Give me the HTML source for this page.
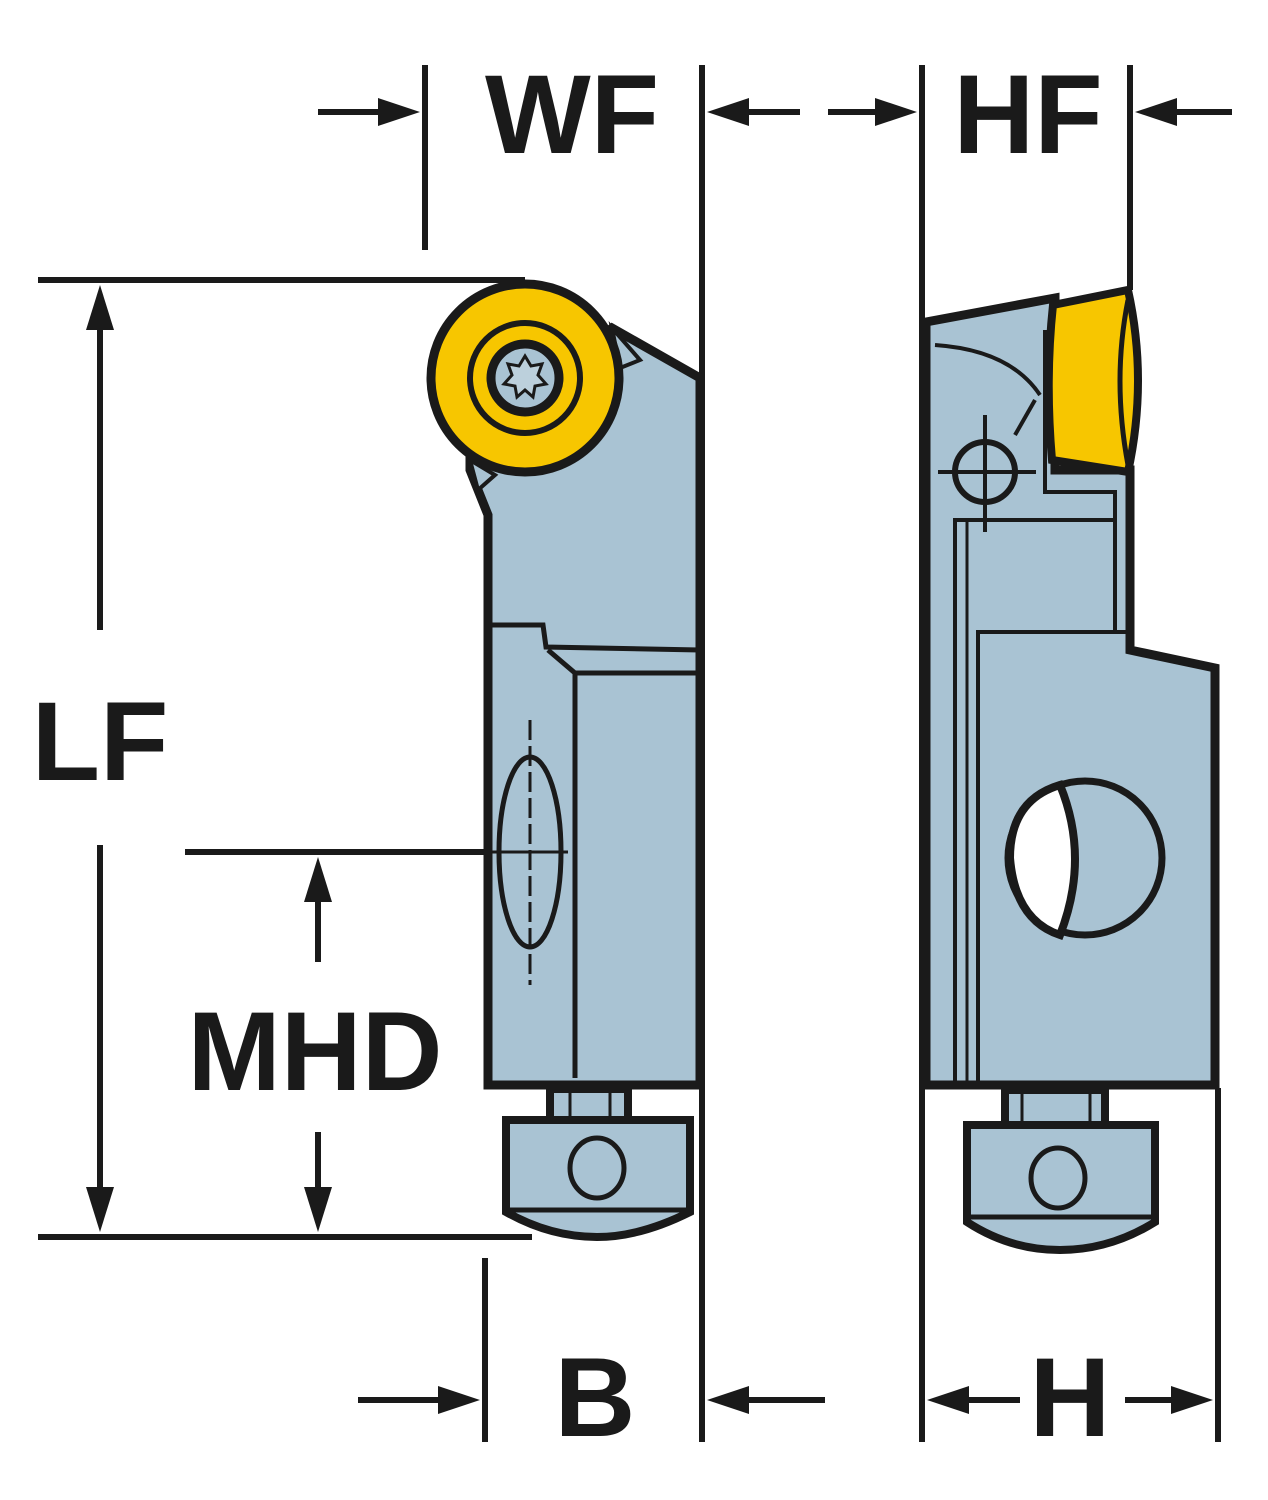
<!DOCTYPE html>
<html><head><meta charset="utf-8"><style>html,body{margin:0;padding:0;background:#fff}svg{display:block}</style></head>
<body>
<svg width="1268" height="1500" viewBox="0 0 1268 1500" xmlns="http://www.w3.org/2000/svg">
<g fill="none" stroke="#1a1a1a" stroke-width="6">
<line x1="425" y1="65" x2="425" y2="250"/>
<line x1="702" y1="65" x2="702" y2="1442"/>
<line x1="922" y1="65" x2="922" y2="1442"/>
<line x1="1130" y1="65" x2="1130" y2="290"/>
<line x1="485" y1="1258" x2="485" y2="1442"/>
<line x1="1218" y1="1088" x2="1218" y2="1442"/>
<line x1="38" y1="280" x2="525" y2="280"/>
<line x1="38" y1="1237" x2="532" y2="1237"/>
<line x1="185" y1="852" x2="565" y2="852"/>
<line x1="318" y1="112" x2="390" y2="112"/>
<line x1="735" y1="112" x2="800" y2="112"/>
<line x1="828" y1="112" x2="890" y2="112"/>
<line x1="1165" y1="112" x2="1232" y2="112"/>
<line x1="100" y1="320" x2="100" y2="630"/>
<line x1="100" y1="845" x2="100" y2="1195"/>
<line x1="318" y1="895" x2="318" y2="962"/>
<line x1="318" y1="1132" x2="318" y2="1195"/>
<line x1="358" y1="1400" x2="450" y2="1400"/>
<line x1="735" y1="1400" x2="825" y2="1400"/>
<line x1="955" y1="1400" x2="1020" y2="1400"/>
<line x1="1125" y1="1400" x2="1185" y2="1400"/>
</g>
<g fill="#1a1a1a">
<polygon points="420,112 378,98 378,126"/>
<polygon points="707,112 749,98 749,126"/>
<polygon points="917,112 875,98 875,126"/>
<polygon points="1135,112 1177,98 1177,126"/>
<polygon points="100,285 86,330 114,330"/>
<polygon points="100,1232 86,1187 114,1187"/>
<polygon points="318,857 304,902 332,902"/>
<polygon points="318,1232 304,1187 332,1187"/>
<polygon points="480,1400 438,1386 438,1414"/>
<polygon points="707,1400 749,1386 749,1414"/>
<polygon points="927,1400 969,1386 969,1414"/>
<polygon points="1213,1400 1171,1386 1171,1414"/>
</g>
<g font-family="Liberation Sans, sans-serif" font-weight="bold" fill="#1a1a1a" font-size="112" text-anchor="middle">
<text x="572" y="153">WF</text>
<text x="1028" y="153">HF</text>
<text x="100" y="780">LF</text>
<text x="315" y="1090">MHD</text>
<text x="595" y="1436">B</text>
<text x="1070" y="1436">H</text>
</g>
<g stroke="#1a1a1a" stroke-width="9" stroke-linejoin="miter">
<polygon fill="#a9c3d3" points="470,470 488,515 488,1085 700,1085 700,378 612,328 470,440"/>
</g>
<g fill="none" stroke="#1a1a1a" stroke-width="5">
<polyline points="490,625 543,625 546,647 700,650"/>
<polyline points="548,650 575,673 700,673"/>
<line x1="575" y1="673" x2="575" y2="1078"/>
<ellipse cx="530" cy="852" rx="31" ry="95"/>
<line x1="530" y1="720" x2="530" y2="985" stroke-width="3" stroke-dasharray="20,6"/>
<line x1="490" y1="852" x2="568" y2="852" stroke-width="3"/>
</g>
<g stroke="#1a1a1a" stroke-width="9">
<polygon fill="#a9c3d3" points="612,328 640,360 620,368" stroke-width="4"/>
<polygon fill="#a9c3d3" points="470,460 495,475 478,490" stroke-width="4"/>
<circle cx="525" cy="378" r="94" fill="#f7c600"/>
<circle cx="525" cy="378" r="55" fill="none" stroke-width="6"/>
<circle cx="525" cy="378" r="34" fill="#a9c3d3" stroke-width="9"/>
</g>
<path d="M525,356 l6,10 11,-2 -4,11 8,9 -11,2 -2,11 -8,-7 -8,7 -2,-11 -11,-2 8,-9 -4,-11 11,2z" fill="#bcd0dc" stroke="#1a1a1a" stroke-width="3"/>
<g stroke="#1a1a1a" stroke-width="8" fill="#a9c3d3">
<rect x="550" y="1089" width="78" height="33"/>
<line x1="570" y1="1090" x2="570" y2="1120" stroke-width="3"/>
<line x1="610" y1="1090" x2="610" y2="1120" stroke-width="3"/>
<path d="M506,1120 L690,1120 L690,1212 Q640,1237 597,1237 Q550,1237 506,1212 Z"/>
<line x1="506" y1="1210" x2="690" y2="1210" stroke-width="5"/>
<ellipse cx="597" cy="1168" rx="27" ry="30" stroke-width="5"/>
</g>
<g stroke="#1a1a1a" stroke-width="9" fill="#a9c3d3">
<polygon points="926,322 1055,298 1055,470 1130,470 1130,650 1215,668 1215,1085 926,1085"/>
</g>
<g fill="none" stroke="#1a1a1a" stroke-width="4">
<path d="M935,345 Q1010,350 1040,395"/>
<line x1="1035" y1="400" x2="1015" y2="435"/>
<polyline points="1045,330 1045,492 1115,492 1115,632"/>
<polyline points="955,1085 955,520 1115,520"/>
<line x1="967" y1="520" x2="967" y2="1085" stroke-width="3"/>
<polyline points="978,1085 978,632 1128,632"/>
<circle cx="985" cy="472" r="30" stroke-width="6"/>
<line x1="985" y1="415" x2="985" y2="532"/>
<line x1="938" y1="472" x2="1036" y2="472"/>
</g>
<g stroke="#1a1a1a" stroke-width="8">
<path d="M1053,305 L1128,290 Q1148,380 1128,472 L1052,460 Q1045,380 1053,305Z" fill="#f7c600"/>
<path d="M1128,300 Q1112,380 1128,465" fill="none" stroke-width="5"/>
<circle cx="1085" cy="858" r="77" fill="none" stroke-width="7"/>
<path d="M1060,785 Q1010,800 1010,858 Q1015,920 1060,935 Q1090,858 1060,785Z" fill="#fff"/>
</g>
<g stroke="#1a1a1a" stroke-width="8" fill="#a9c3d3">
<rect x="1005" y="1090" width="100" height="37"/>
<line x1="1022" y1="1092" x2="1022" y2="1125" stroke-width="3"/>
<line x1="1090" y1="1092" x2="1090" y2="1125" stroke-width="3"/>
<path d="M967,1125 L1155,1125 L1155,1222 Q1110,1250 1060,1250 Q1010,1250 967,1222 Z"/>
<line x1="967" y1="1217" x2="1155" y2="1217" stroke-width="5"/>
<ellipse cx="1058" cy="1178" rx="27" ry="30" stroke-width="5"/>
</g>
</svg>
</body></html>
